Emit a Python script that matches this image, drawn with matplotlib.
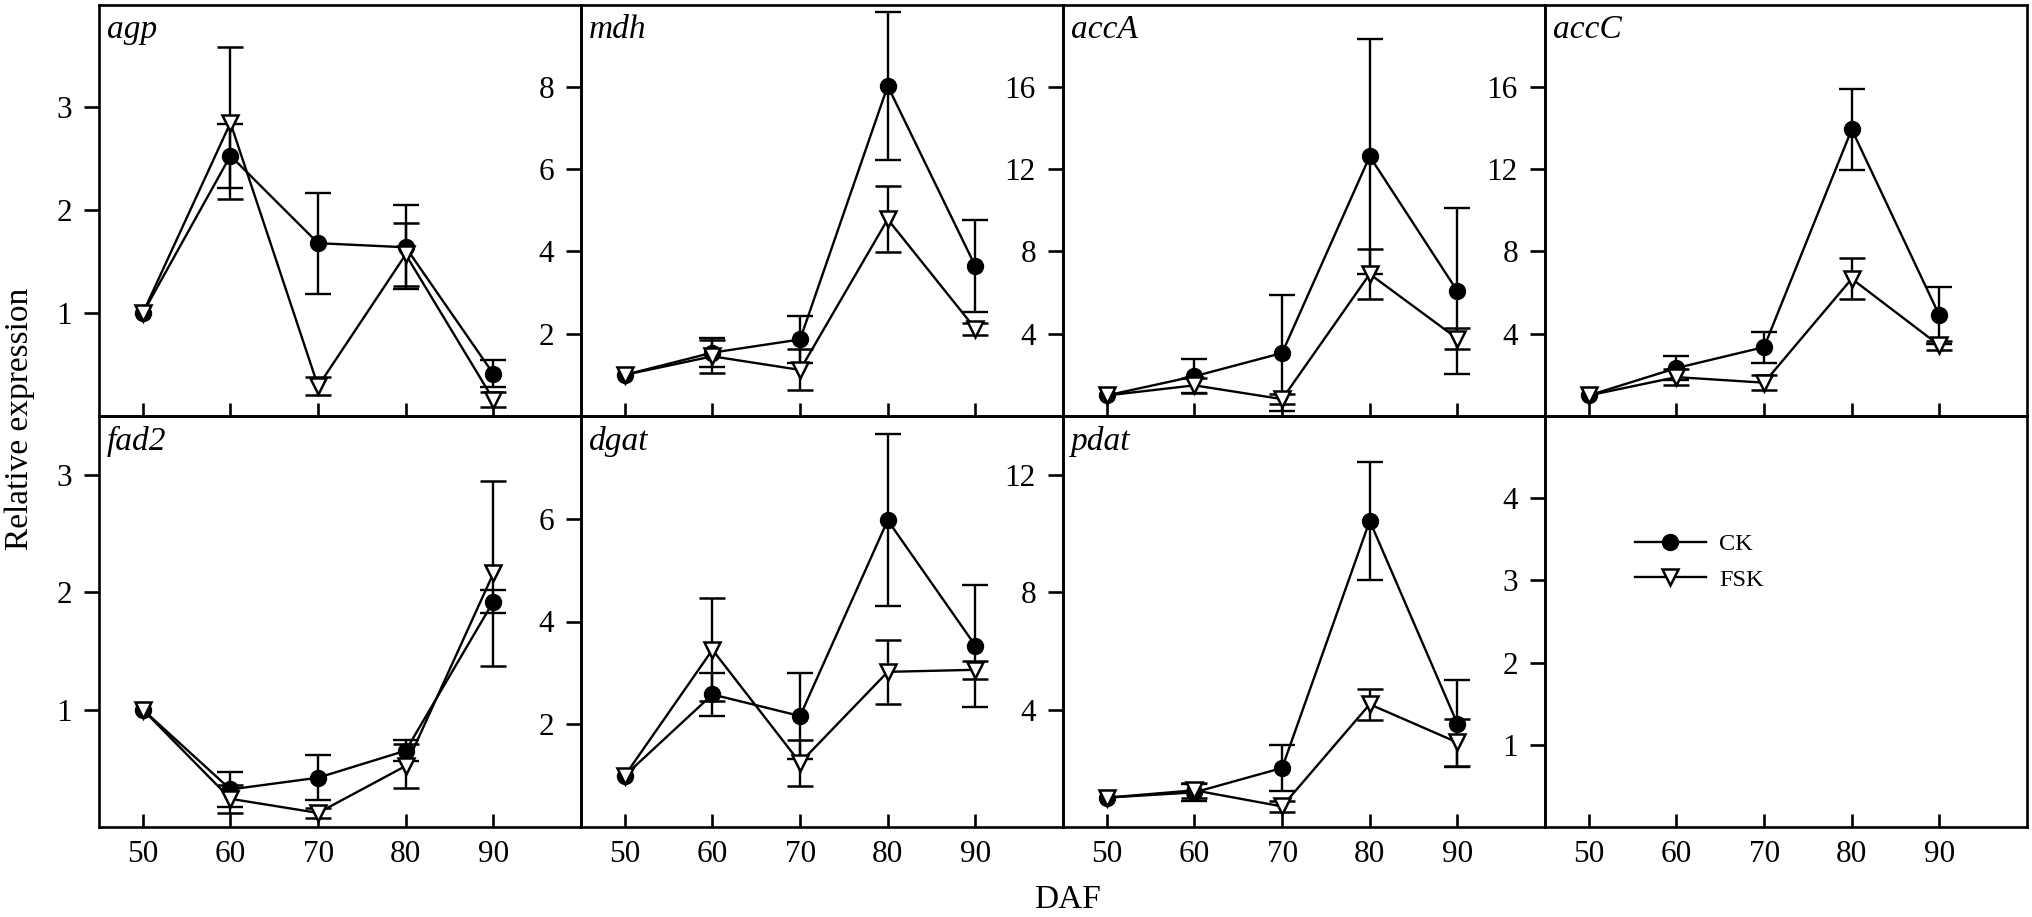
import numpy as np
import matplotlib
matplotlib.use("Agg")
import matplotlib.pyplot as plt

nan = np.nan
days = [50, 60, 70, 80, 90]
genes = ["agp", "mdh", "accA", "accC", "fad2", "dgat", "pdat"]

agp_ck = [1.0, 2.53, 1.68, 1.64, 0.41]
agp_ck_err = [nan, 0.31, 0.49, 0.41, 0.13]
agp_fsk = [1.0, 2.85, 0.29, 1.57, 0.16]
agp_fsk_err = [nan, 0.74, 0.09, 0.31, 0.07]

mdh_ck = [1.0, 1.54, 1.86, 8.02, 3.64]
mdh_ck_err = [nan, 0.36, 0.57, 1.80, 1.12]
mdh_fsk = [1.0, 1.45, 1.12, 4.78, 2.12]
mdh_fsk_err = [nan, 0.40, 0.50, 0.80, 0.15]

accA_ck = [1.0, 1.93, 3.06, 12.62, 6.07]
accA_ck_err = [nan, 0.82, 2.83, 5.71, 4.05]
accA_fsk = [1.0, 1.49, 0.82, 6.90, 3.76]
accA_fsk_err = [nan, 0.36, 0.26, 1.20, 0.50]

accC_ck = [1.0, 2.33, 3.35, 13.93, 4.89]
accC_ck_err = [nan, 0.57, 0.75, 1.97, 1.38]
accC_fsk = [1.0, 1.89, 1.62, 6.67, 3.43]
accC_fsk_err = [nan, 0.40, 0.38, 1.00, 0.20]

fad2_ck = [1.0, 0.32, 0.42, 0.65, 1.92]
fad2_ck_err = [nan, 0.15, 0.19, 0.09, 0.10]
fad2_fsk = [1.0, 0.24, 0.12, 0.52, 2.16]
fad2_fsk_err = [nan, 0.12, 0.04, 0.19, 0.79]

dgat_ck = [1.0, 2.58, 2.16, 5.97, 3.53]
dgat_ck_err = [nan, 0.41, 0.83, 1.67, 1.19]
dgat_fsk = [1.0, 3.45, 1.25, 3.02, 3.06]
dgat_fsk_err = [nan, 1.00, 0.45, 0.62, 0.18]

pdat_ck = [1.0, 1.18, 2.01, 10.43, 3.52]
pdat_ck_err = [nan, 0.30, 0.78, 2.00, 1.48]
pdat_fsk = [1.0, 1.25, 0.70, 4.18, 2.88]
pdat_fsk_err = [nan, 0.26, 0.19, 0.52, 0.80]

ck_vals = [agp_ck, mdh_ck, accA_ck, accC_ck, fad2_ck, dgat_ck, pdat_ck]
ck_errs = [agp_ck_err, mdh_ck_err, accA_ck_err, accC_ck_err, fad2_ck_err, dgat_ck_err, pdat_ck_err]
fsk_vals = [agp_fsk, mdh_fsk, accA_fsk, accC_fsk, fad2_fsk, dgat_fsk, pdat_fsk]
fsk_errs = [agp_fsk_err, mdh_fsk_err, accA_fsk_err, accC_fsk_err, fad2_fsk_err, dgat_fsk_err, pdat_fsk_err]

y_max = [4, 10, 20, 20, 3.5, 8, 14, 5]
y_ticks = [[1, 2, 3], [2, 4, 6, 8], [4, 8, 12, 16], [4, 8, 12, 16],
           [1, 2, 3], [2, 4, 6], [4, 8, 12], [1, 2, 3, 4]]
x_ticks = [50, 60, 70, 80, 90]
series_labels = ["CK", "FSK"]

plt.rcParams["font.family"] = ["Liberation Serif", "DejaVu Serif"]
plt.rcParams["axes.linewidth"] = 1.9

W, H = 2032, 917
fig = plt.figure(figsize=(W / 100, H / 100), dpi=100)

left0, pw = 99, 482
rows_px = [(4.5, 416), (416, 827)]

axes = []
for i in range(8):
    r, c = divmod(i, 4)
    top, bot = rows_px[r]
    ax = fig.add_axes([(left0 + c * pw) / W, (H - bot) / H, pw / W, (bot - top) / H])
    ax.set_facecolor("none")
    axes.append(ax)

lw = 1.7
for i, ax in enumerate(axes):
    ax.set_xlim(45, 100)
    ax.set_ylim(0, y_max[i])
    ax.set_xticks(x_ticks)
    ax.set_yticks(y_ticks[i])
    ax.tick_params(axis="x", direction="in", length=9.5, width=1.9, pad=9, labelsize=22.5)
    ax.tick_params(axis="y", direction="out", length=10.5, width=1.9, pad=9, labelsize=22.5)
    if i < 4:
        ax.tick_params(axis="x", labelbottom=False)
    if i < 7:
        ck = ax.errorbar(days, ck_vals[i], yerr=ck_errs[i], fmt="-o", color="black",
                         mfc="black", mec="black", ms=11.5, lw=lw, elinewidth=lw,
                         capsize=9.5, capthick=lw, zorder=3)
        fsk = ax.errorbar(days, fsk_vals[i], yerr=fsk_errs[i], fmt="-v", color="black",
                          mfc="white", mec="black", mew=1.8, ms=11.5, lw=lw, elinewidth=lw,
                          capsize=9.5, capthick=lw, zorder=4)
        ax.text(0.016, 0.975, genes[i], transform=ax.transAxes, ha="left", va="top",
                fontsize=24, fontstyle="italic")
        handles = [ck.lines[0], fsk.lines[0]]

leg = axes[7].legend(handles, series_labels, loc="upper left", bbox_to_anchor=(0.187, 0.715),
                     frameon=False, fontsize=17.5, handlelength=2.9, handletextpad=0.55,
                     labelspacing=0.55, borderpad=0, borderaxespad=0)

fig.text(20 / W, (H - 419) / H, "Relative expression", rotation=90, ha="center",
         va="center", fontsize=24)
fig.text(1067 / W, (H - 900) / H, "DAF", ha="center", va="center", fontsize=24)

fig.savefig("out.png", dpi=100)
